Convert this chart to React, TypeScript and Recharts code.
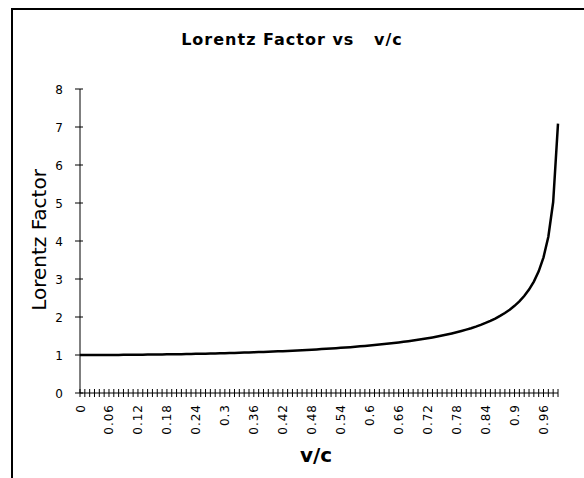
import React from "react";
import { LineChart, Line, XAxis, YAxis } from "recharts";

const chartTitle = "Lorentz Factor vs   v/c";
const xAxisTitle = "v/c";
const yAxisTitle = "Lorentz Factor";

const vOverC = [
  0, 0.01, 0.02, 0.03, 0.04, 0.05, 0.06, 0.07, 0.08, 0.09,
  0.1, 0.11, 0.12, 0.13, 0.14, 0.15, 0.16, 0.17, 0.18, 0.19,
  0.2, 0.21, 0.22, 0.23, 0.24, 0.25, 0.26, 0.27, 0.28, 0.29,
  0.3, 0.31, 0.32, 0.33, 0.34, 0.35, 0.36, 0.37, 0.38, 0.39,
  0.4, 0.41, 0.42, 0.43, 0.44, 0.45, 0.46, 0.47, 0.48, 0.49,
  0.5, 0.51, 0.52, 0.53, 0.54, 0.55, 0.56, 0.57, 0.58, 0.59,
  0.6, 0.61, 0.62, 0.63, 0.64, 0.65, 0.66, 0.67, 0.68, 0.69,
  0.7, 0.71, 0.72, 0.73, 0.74, 0.75, 0.76, 0.77, 0.78, 0.79,
  0.8, 0.81, 0.82, 0.83, 0.84, 0.85, 0.86, 0.87, 0.88, 0.89,
  0.9, 0.91, 0.92, 0.93, 0.94, 0.95, 0.96, 0.97, 0.98, 0.99,
];

const lorentzFactor = [
  1.0, 1.0, 1.0002, 1.0005, 1.0008, 1.0013, 1.0018, 1.0025, 1.0032, 1.0041,
  1.005, 1.0061, 1.0073, 1.0086, 1.0099, 1.0114, 1.013, 1.0148, 1.0166, 1.0186,
  1.0206, 1.0228, 1.0251, 1.0276, 1.0301, 1.0328, 1.0356, 1.0386, 1.0417, 1.0449,
  1.0483, 1.0518, 1.0555, 1.0593, 1.0634, 1.0675, 1.0719, 1.0764, 1.0811, 1.086,
  1.0911, 1.0964, 1.1019, 1.1076, 1.1136, 1.1198, 1.1262, 1.1329, 1.1399, 1.1471,
  1.1547, 1.1626, 1.1708, 1.1793, 1.1882, 1.1974, 1.207, 1.2171, 1.2276, 1.2385,
  1.25, 1.262, 1.2745, 1.2877, 1.3015, 1.3159, 1.3311, 1.3471, 1.3639, 1.3816,
  1.4003, 1.4201, 1.441, 1.4632, 1.4868, 1.5119, 1.5386, 1.5673, 1.598, 1.631,
  1.6667, 1.7052, 1.7471, 1.7929, 1.843, 1.8983, 1.9597, 2.0282, 2.1054, 2.1932,
  2.2942, 2.4119, 2.5516, 2.7207, 2.9311, 3.2026, 3.5714, 4.1135, 5.0252, 7.0888,
];

const yTicks = [0, 1, 2, 3, 4, 5, 6, 7, 8];
const labelEvery = 6;

const data = vOverC.map((v, i) => ({ v, gamma: lorentzFactor[i] }));

const FONT = "'DejaVu Sans', Verdana, sans-serif";

const XTick = (props: any) => {
  const { x, y, payload } = props;
  const idx = Math.round(Number(payload.value) * 100);
  return (
    <g>
      <line x1={x} x2={x} y1={y - 4} y2={y + 4} stroke="#000" strokeWidth={1} />
      {idx % labelEvery === 0 && (
        <text
          transform={`translate(${x + 4.5},${y + 11}) rotate(-90)`}
          textAnchor="end"
          fontFamily={FONT}
          fontSize={12}
          letterSpacing={1}
          fill="#000"
        >
          {String(payload.value)}
        </text>
      )}
    </g>
  );
};

const YTick = (props: any) => {
  const { x, y, payload } = props;
  return (
    <g>
      <line x1={x - 5} x2={x + 3} y1={y} y2={y} stroke="#000" strokeWidth={1} />
      <text
        x={x - 17}
        y={y + 4.5}
        textAnchor="end"
        fontFamily={FONT}
        fontSize={12}
        fill="#000"
      >
        {String(payload.value)}
      </text>
    </g>
  );
};

export default function App() {
  return (
    <div
      style={{
        position: "absolute",
        left: 0,
        top: 0,
        width: 584,
        height: 478,
        background: "#fff",
        overflow: "hidden",
      }}
    >
      <LineChart
        width={584}
        height={478}
        data={data}
        margin={{ top: 89, right: 26, bottom: 0, left: 0 }}
      >
        <XAxis
          dataKey="v"
          type="category"
          interval={0}
          height={85}
          tickSize={0}
          tickMargin={0}
          tickLine={false}
          axisLine={{ stroke: "#000", strokeWidth: 1 }}
          tick={(p: any) => <XTick {...p} />}
        />
        <XAxis
          xAxisId="top"
          dataKey="v"
          orientation="top"
          height={0}
          tick={false}
          tickLine={false}
          axisLine={{ stroke: "#999", strokeWidth: 1 }}
        />
        <YAxis
          type="number"
          domain={[0, 8]}
          ticks={yTicks}
          interval={0}
          width={80}
          tickSize={0}
          tickMargin={0}
          tickLine={false}
          axisLine={{ stroke: "#000", strokeWidth: 1 }}
          tick={(p: any) => <YTick {...p} />}
        />
        <YAxis
          yAxisId="right"
          orientation="right"
          width={0}
          tick={false}
          tickLine={false}
          axisLine={{ stroke: "#999", strokeWidth: 1 }}
        />
        <Line
          type="linear"
          dataKey="gamma"
          stroke="#000"
          strokeWidth={2.5}
          dot={false}
          activeDot={false}
          isAnimationActive={false}
        />
      </LineChart>
      <svg
        width={584}
        height={478}
        style={{ position: "absolute", left: 0, top: 0, pointerEvents: "none" }}
      >
        <line x1={11} x2={584} y1={9} y2={9} stroke="#000" strokeWidth={2} />
        <line x1={12} x2={12} y1={8} y2={478} stroke="#000" strokeWidth={2} />
        <text
          x={292}
          y={45}
          textAnchor="middle"
          fontFamily={FONT}
          fontWeight="bold"
          fontSize={16}
          letterSpacing={1}
          fill="#000"
          style={{ whiteSpace: "pre" }}
          xmlSpace="preserve"
        >
          {chartTitle}
        </text>
        <text
          transform="translate(46,240) rotate(-90)"
          textAnchor="middle"
          fontFamily={FONT}
          fontSize={20}
          fill="#000"
        >
          {yAxisTitle}
        </text>
        <text
          x={316}
          y={462}
          textAnchor="middle"
          fontFamily={FONT}
          fontWeight="bold"
          fontSize={20}
          fill="#000"
        >
          {xAxisTitle}
        </text>
      </svg>
    </div>
  );
}
